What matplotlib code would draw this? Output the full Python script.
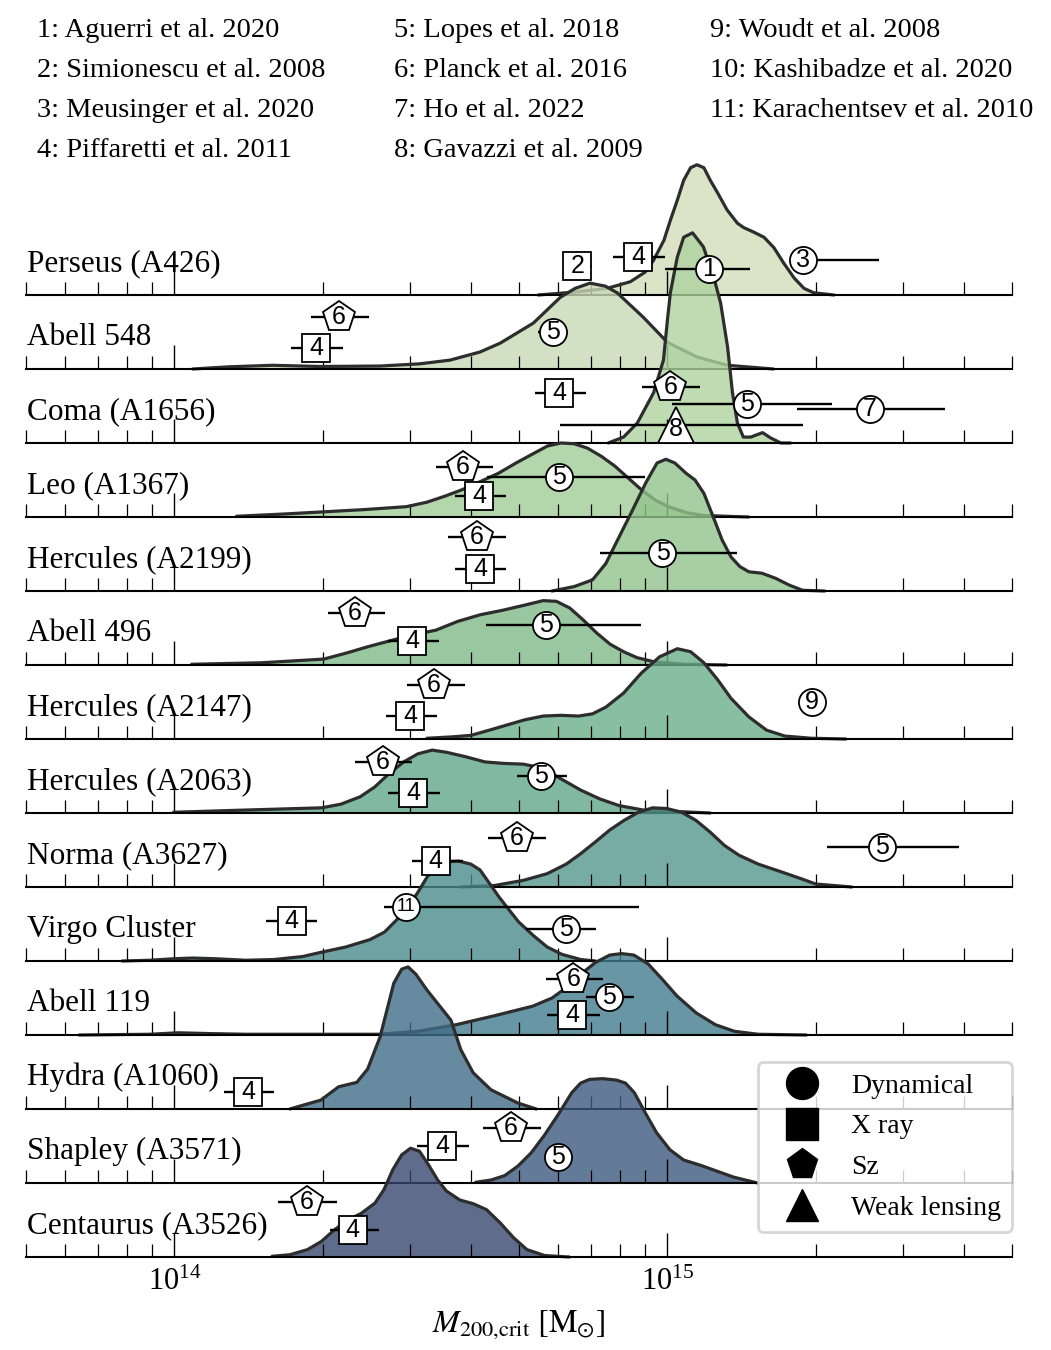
import numpy as np
import matplotlib
matplotlib.use('Agg')
import matplotlib.pyplot as plt
from matplotlib.lines import Line2D
from matplotlib.ticker import NullFormatter

plt.rcParams['font.family'] = ['Liberation Serif', 'DejaVu Serif']
plt.rcParams['mathtext.fontset'] = 'stix'

# ---------------- data ----------------
clusters = ['Perseus (A426)', 'Abell 548', 'Coma (A1656)', 'Leo (A1367)',
            'Hercules (A2199)', 'Abell 496', 'Hercules (A2147)', 'Hercules (A2063)',
            'Norma (A3627)', 'Virgo Cluster', 'Abell 119', 'Hydra (A1060)',
            'Shapley (A3571)', 'Centaurus (A3526)']

references = ['1: Aguerri et al. 2020', '2: Simionescu et al. 2008',
              '3: Meusinger et al. 2020', '4: Piffaretti et al. 2011',
              '5: Lopes et al. 2018', '6: Planck et al. 2016', '7: Ho et al. 2022',
              '8: Gavazzi et al. 2009', '9: Woudt et al. 2008',
              '10: Kashibadze et al. 2020', '11: Karachentsev et al. 2010']

methods = ['Dynamical', 'X ray', 'Sz', 'Weak lensing']

# density curves: log10(M200/Msun) and density (relative units)
logm_perseus = [14.738, 14.813, 14.878, 14.925, 14.955, 14.972, 14.993, 15.006, 15.020, 15.033,
                15.047, 15.060, 15.074, 15.087, 15.101, 15.121, 15.142, 15.155, 15.175, 15.196,
                15.216, 15.236, 15.257, 15.277, 15.297, 15.338]
dens_perseus = [0, .04, .09, .18, .31, .47, .74, 1.01, 1.28, 1.55, 1.72, 1.76, 1.72, 1.55, 1.39,
                1.15, .97, .91, .85, .78, .64, .43, .23, .09, .03, 0]

logm_a548 = [14.037, 14.112, 14.199, 14.295, 14.417, 14.498, 14.559, 14.620, 14.661, 14.728, 14.783,
             14.813, 14.843, 14.874, 14.898, 14.951, 15.000, 15.061, 15.122, 15.215]
dens_a548 = [0, .03, .05, .034, .04, .07, .12, .23, .35, .62, .97, 1.09, 1.16, 1.12, 1.03, .70, .36,
             .16, .05, 0]

logm_coma = [14.880, 14.911, 14.939, 14.972, 14.992, 15.000, 15.006, 15.020, 15.033, 15.051, 15.073,
             15.094, 15.108, 15.122, 15.132, 15.142, 15.154, 15.169, 15.193, 15.209, 15.230, 15.250]
dens_coma = [0, .08, .27, .68, 1.12, 1.66, 2.03, 2.51, 2.78, 2.84, 2.65, 2.24, 1.89, 1.30, .68, .27,
             .08, .08, .14, .07, 0, 0]

logm_leo = [14.126, 14.221, 14.303, 14.385, 14.471, 14.512, 14.548, 14.584, 14.621, 14.657, 14.693,
            14.729, 14.757, 14.784, 14.811, 14.838, 14.866, 14.893, 14.920, 14.947, 14.975, 15.002,
            15.038, 15.074, 15.165]
dens_leo = [.01, .04, .07, .10, .14, .20, .28, .37, .48, .59, .73, .86, .96, 1.0, .99, .93, .82, .69,
            .53, .37, .23, .14, .06, .02, 0]

logm_a2199 = [14.766, 14.811, 14.848, 14.875, 14.902, 14.929, 14.956, 14.979, 14.997, 15.015, 15.038,
              15.056, 15.074, 15.093, 15.111, 15.129, 15.147, 15.165, 15.192, 15.220, 15.247, 15.274,
              15.319]
dens_a2199 = [0, .06, .15, .37, .73, 1.09, 1.46, 1.73, 1.78, 1.73, 1.59, 1.50, 1.32, 1.00, .69, .46,
              .33, .26, .24, .17, .08, .01, 0]

logm_a496 = [14.035, 14.176, 14.303, 14.348, 14.394, 14.439, 14.485, 14.530, 14.575, 14.621, 14.666,
             14.711, 14.748, 14.775, 14.802, 14.829, 14.857, 14.884, 14.911, 14.938, 14.975, 15.038,
             15.120]
dens_a496 = [.01, .03, .08, .16, .25, .33, .41, .47, .59, .68, .74, .81, .87, .86, .77, .61, .43, .28,
             .18, .10, .04, .01, 0]

logm_a2147 = [14.512, 14.566, 14.602, 14.639, 14.675, 14.711, 14.748, 14.784, 14.820, 14.848, 14.875,
              14.911, 14.947, 14.984, 15.020, 15.047, 15.074, 15.102, 15.129, 15.165, 15.201, 15.238,
              15.292, 15.362]
dens_a2147 = [.01, .03, .05, .12, .19, .26, .31, .32, .31, .34, .43, .62, .89, 1.11, 1.22, 1.18, 1.03,
              .80, .55, .30, .12, .04, .01, 0]

logm_a2063 = [13.998, 14.144, 14.299, 14.338, 14.377, 14.406, 14.435, 14.465, 14.494, 14.523, 14.552,
              14.591, 14.630, 14.669, 14.708, 14.737, 14.766, 14.795, 14.824, 14.863, 14.902, 14.951,
              15.087]
dens_a2063 = [.01, .04, .07, .12, .22, .35, .53, .69, .80, .85, .82, .76, .69, .67, .66, .62, .53, .42,
              .31, .19, .10, .04, 0]

logm_norma = [14.581, 14.649, 14.708, 14.756, 14.795, 14.824, 14.854, 14.883, 14.912, 14.941, 14.970,
              14.999, 15.029, 15.058, 15.087, 15.116, 15.145, 15.184, 15.233, 15.272, 15.301, 15.374]
dens_norma = [0, .02, .09, .18, .31, .45, .61, .77, .90, 1.01, 1.07, 1.06, 1.01, .90, .74, .56, .43,
              .31, .20, .11, .04, 0]

logm_virgo = [13.894, 13.949, 13.998, 14.037, 14.085, 14.144, 14.202, 14.260, 14.299, 14.348, 14.397,
              14.426, 14.450, 14.474, 14.494, 14.513, 14.533, 14.552, 14.576, 14.601, 14.620, 14.640,
              14.659, 14.679, 14.698, 14.727, 14.756, 14.786, 14.824, 14.854]
dens_virgo = [0, .01, .03, .04, .03, .01, .02, .06, .12, .19, .29, .39, .55, .73, .93, 1.14, 1.27,
              1.34, 1.35, 1.31, 1.23, 1.04, .86, .69, .53, .35, .19, .09, .02, 0]

logm_a119 = [13.807, 13.949, 14.008, 14.066, 14.144, 14.416, 14.494, 14.572, 14.649, 14.727, 14.766,
             14.795, 14.824, 14.854, 14.883, 14.907, 14.932, 14.961, 14.990, 15.019, 15.058, 15.097,
             15.136, 15.184, 15.282]
dens_a119 = [0, .01, .03, .02, .01, .01, .05, .14, .26, .39, .50, .64, .82, .98, 1.08, 1.10, 1.08,
             .96, .75, .53, .30, .14, .05, .01, 0]

logm_hydra = [14.234, 14.297, 14.333, 14.370, 14.392, 14.407, 14.417, 14.445, 14.461, 14.474, 14.490,
              14.512, 14.561, 14.581, 14.606, 14.642, 14.697, 14.734]
dens_hydra = [0, .12, .30, .36, .54, .80, .97, 1.70, 1.89, 1.92, 1.82, 1.61, 1.20, .80, .49, .26, .08, 0]

logm_shapley = [14.611, 14.642, 14.670, 14.697, 14.724, 14.751, 14.778, 14.806, 14.824, 14.842,
                14.869, 14.897, 14.915, 14.933, 14.955, 14.978, 15.005, 15.033, 15.067, 15.134, 15.183]
dens_shapley = [.01, .04, .10, .23, .41, .65, .92, 1.22, 1.35, 1.40, 1.41, 1.39, 1.35, 1.22, .95,
                .68, .45, .31, .24, .08, 0]

logm_centaurus = [14.198, 14.234, 14.270, 14.298, 14.325, 14.352, 14.379, 14.407, 14.425, 14.443,
                  14.461, 14.479, 14.497, 14.515, 14.534, 14.552, 14.579, 14.606, 14.633, 14.661,
                  14.688, 14.715, 14.751, 14.801]
dens_centaurus = [.01, .03, .10, .21, .37, .50, .59, .73, .91, 1.18, 1.38, 1.47, 1.43, 1.25, 1.04,
                  .89, .77, .72, .64, .46, .26, .10, .02, 0]

# individual literature measurements
meas_cluster = [0, 0, 0, 0, 1, 1, 1, 2, 2, 2, 2, 2, 3, 3, 3, 4, 4, 4, 5, 5, 5, 6, 6, 6,
                7, 7, 7, 8, 8, 8, 9, 9, 9, 10, 10, 10, 11, 12, 12, 12, 13, 13]
meas_ref = [2, 4, 1, 3, 6, 4, 5, 4, 6, 5, 7, 8, 6, 5, 4, 6, 4, 5, 6, 4, 5, 6, 4, 9,
            6, 4, 5, 6, 4, 5, 11, 4, 5, 6, 5, 4, 4, 6, 4, 5, 6, 4]
meas_method = ['X ray', 'X ray', 'Dynamical', 'Dynamical',
               'Sz', 'X ray', 'Dynamical',
               'X ray', 'Sz', 'Dynamical', 'Dynamical', 'Weak lensing',
               'Sz', 'Dynamical', 'X ray',
               'Sz', 'X ray', 'Dynamical',
               'Sz', 'X ray', 'Dynamical',
               'Sz', 'X ray', 'Dynamical',
               'Sz', 'X ray', 'Dynamical',
               'Sz', 'X ray', 'Dynamical',
               'Dynamical', 'X ray', 'Dynamical',
               'Sz', 'Dynamical', 'X ray',
               'X ray',
               'Sz', 'X ray', 'Dynamical',
               'Sz', 'X ray']
meas_logm = [14.817, 14.941, 15.085, 15.276,
             14.333, 14.287, 14.768,
             14.780, 15.006, 15.161, 15.411, 15.018,
             14.585, 14.780, 14.618,
             14.614, 14.620, 14.990,
             14.366, 14.482, 14.754,
             14.526, 14.478, 15.293,
             14.423, 14.484, 14.744,
             14.695, 14.530, 15.435,
             14.470, 14.238, 14.795,
             14.809, 14.882, 14.807,
             14.150,
             14.683, 14.543, 14.778,
             14.268, 14.362]
nan = float('nan')
meas_logm_lo = [14.800, 14.890, 14.996, 15.250,
                14.278, 14.236, 14.738,
                14.732, 14.949, 15.010, 15.262, 14.783,
                14.530, 14.634, 14.569,
                14.555, 14.569, 14.864,
                14.311, 14.433, 14.632,
                14.472, 14.429, nan,
                14.366, 14.433, 14.695,
                14.636, 14.482, 15.323,
                14.425, 14.185, 14.713,
                14.754, 14.835, 14.756,
                14.100,
                14.626, 14.492, nan,
                14.211, 14.315]
meas_logm_hi = [14.848, 14.996, 15.167, 15.429,
                14.394, 14.341, 14.768,
                14.835, 15.067, 15.333, 15.563, 15.276,
                14.646, 14.955, 14.673,
                14.673, 14.673, 15.142,
                14.427, 14.537, 14.947,
                14.589, 14.533, nan,
                14.482, 14.539, 14.797,
                14.754, 14.585, 15.591,
                14.943, 14.289, 14.856,
                14.870, 14.933, 14.864,
                14.203,
                14.744, 14.598, nan,
                14.329, 14.415]

curves = [(logm_perseus, dens_perseus), (logm_a548, dens_a548), (logm_coma, dens_coma),
          (logm_leo, dens_leo), (logm_a2199, dens_a2199), (logm_a496, dens_a496),
          (logm_a2147, dens_a2147), (logm_a2063, dens_a2063), (logm_norma, dens_norma),
          (logm_virgo, dens_virgo), (logm_a119, dens_a119), (logm_hydra, dens_hydra),
          (logm_shapley, dens_shapley), (logm_centaurus, dens_centaurus)]

# ---------------- layout / style ----------------
meas_yoff = [.39, .51, .35, .47,
             .70, .28, .50,
             .68, .76, .53, .46, .24,
             .68, .54, .28,
             .73, .30, .51,
             .70, .32, .54,
             .73, .31, .50,
             .69, .27, .50,
             .66, .35, .54,
             .73, .54, .43,
             .76, .51, .27,
             .23,
             .74, .50, .35,
             .74, .36]

fill_colors = ['#d4dcba', '#c7d9b4', '#aed39f', '#a1cc97', '#91c48c', '#7eba88', '#6aaf89',
               '#60a78c', '#54978d', '#4b8c8c', '#427c8e', '#406d89', '#3c5a7f', '#374770']
marker_of = {'Dynamical': 'o', 'X ray': 's', 'Sz': 'p', 'Weak lensing': '^'}
msize_of = {'Dynamical': 19.5, 'X ray': 20.5, 'Sz': 23.5, 'Weak lensing': 26}

W, H = 1051, 1350
fig = plt.figure(figsize=(W / 100, H / 100), dpi=100)
left = 26 / W
width = 986 / W
row_px = 74
first_base = 295
n = len(clusters)
xlim = (5e13, 5e15)

for i, name in enumerate(clusters):
    yb = first_base + row_px * i
    ax = fig.add_axes([left, 1 - yb / H, width, row_px / H])
    ax.set_xscale('log')
    ax.set_xlim(*xlim)
    ax.set_ylim(0, 1)
    ax.patch.set_visible(False)
    for s in ['top', 'left', 'right']:
        ax.spines[s].set_visible(False)
    ax.spines['bottom'].set_linewidth(1.5)
    ax.set_yticks([])
    ax.tick_params(axis='x', which='major', direction='in', length=17.5, width=1.0,
                   labelsize=22, pad=8)
    ax.tick_params(axis='x', which='minor', direction='in', length=9.5, width=0.9)
    ax.xaxis.set_minor_formatter(NullFormatter())
    if i < n - 1:
        ax.tick_params(axis='x', which='both', labelbottom=False)
    lm, dn = curves[i]
    m = 10 ** np.array(lm)
    ax.fill_between(m, 0, dn, color=fill_colors[i], alpha=0.8, lw=0, clip_on=False, zorder=1)
    ax.plot(m, dn, color='#2d2d2d', lw=2.3, clip_on=False, zorder=2,
            solid_joinstyle='round', solid_capstyle='round')
    ax.text(1 / 986, 0.32, name, transform=ax.transAxes, fontsize=22.5,
            ha='left', va='baseline')
    if i == n - 1:
        ax.set_xlabel(r'$M_{200{,}\mathrm{crit}}\ [\mathrm{M}_{\odot}]$', fontsize=23, labelpad=8)

# overlay for the individual measurements (drawn above every ridge)
ov = fig.add_axes([left, 1 - (first_base + row_px * (n - 1)) / H, width, row_px * n / H])
ov.set_xscale('log')
ov.set_xlim(*xlim)
ov.set_ylim(0, n)
ov.axis('off')
ov.patch.set_visible(False)

for k in range(len(meas_ref)):
    y = (n - 1 - meas_cluster[k]) + meas_yoff[k]
    mval = 10 ** meas_logm[k]
    lo, hi = meas_logm_lo[k], meas_logm_hi[k]
    if not (np.isnan(lo) or np.isnan(hi)):
        ov.errorbar([mval], [y], xerr=[[mval - 10 ** lo], [10 ** hi - mval]], fmt='none',
                    ecolor='black', elinewidth=1.7, capsize=0, zorder=3)
    meth = meas_method[k]
    ov.plot([mval], [y], ls='none', marker=marker_of[meth], ms=msize_of[meth],
            mfc='white', mec='black', mew=1.3, zorder=4)
    lab = str(meas_ref[k])
    fs = 13 if len(lab) > 1 else 18
    dy = -0.05 if meth == 'Weak lensing' else 0.0
    ov.text(mval, y + dy, lab, ha='center', va='center', fontsize=fs,
            family=['Liberation Sans', 'DejaVu Sans'], zorder=5)

# reference list at the top
col_x = [37, 394, 710]
for j, ref in enumerate(references):
    c = j // 4
    r = j % 4
    fig.text(col_x[c] / W, 1 - (37 + 40 * r) / H, ref, fontsize=20.5, va='baseline', ha='left')

# method legend
handles = [Line2D([], [], ls='none', marker=marker_of[mm], color='black', ms=23) for mm in methods]
leg = fig.legend(handles, methods, loc='lower right', bbox_to_anchor=(1012 / W, 1 - 1232 / H),
                 fontsize=20, frameon=True, fancybox=True, framealpha=0.8, edgecolor='0.8',
                 borderpad=0.4, labelspacing=0.55, handlelength=2.4, handletextpad=0.55,
                 borderaxespad=0)
leg.get_frame().set_linewidth(2.0)

fig.savefig('out.png', dpi=100)
